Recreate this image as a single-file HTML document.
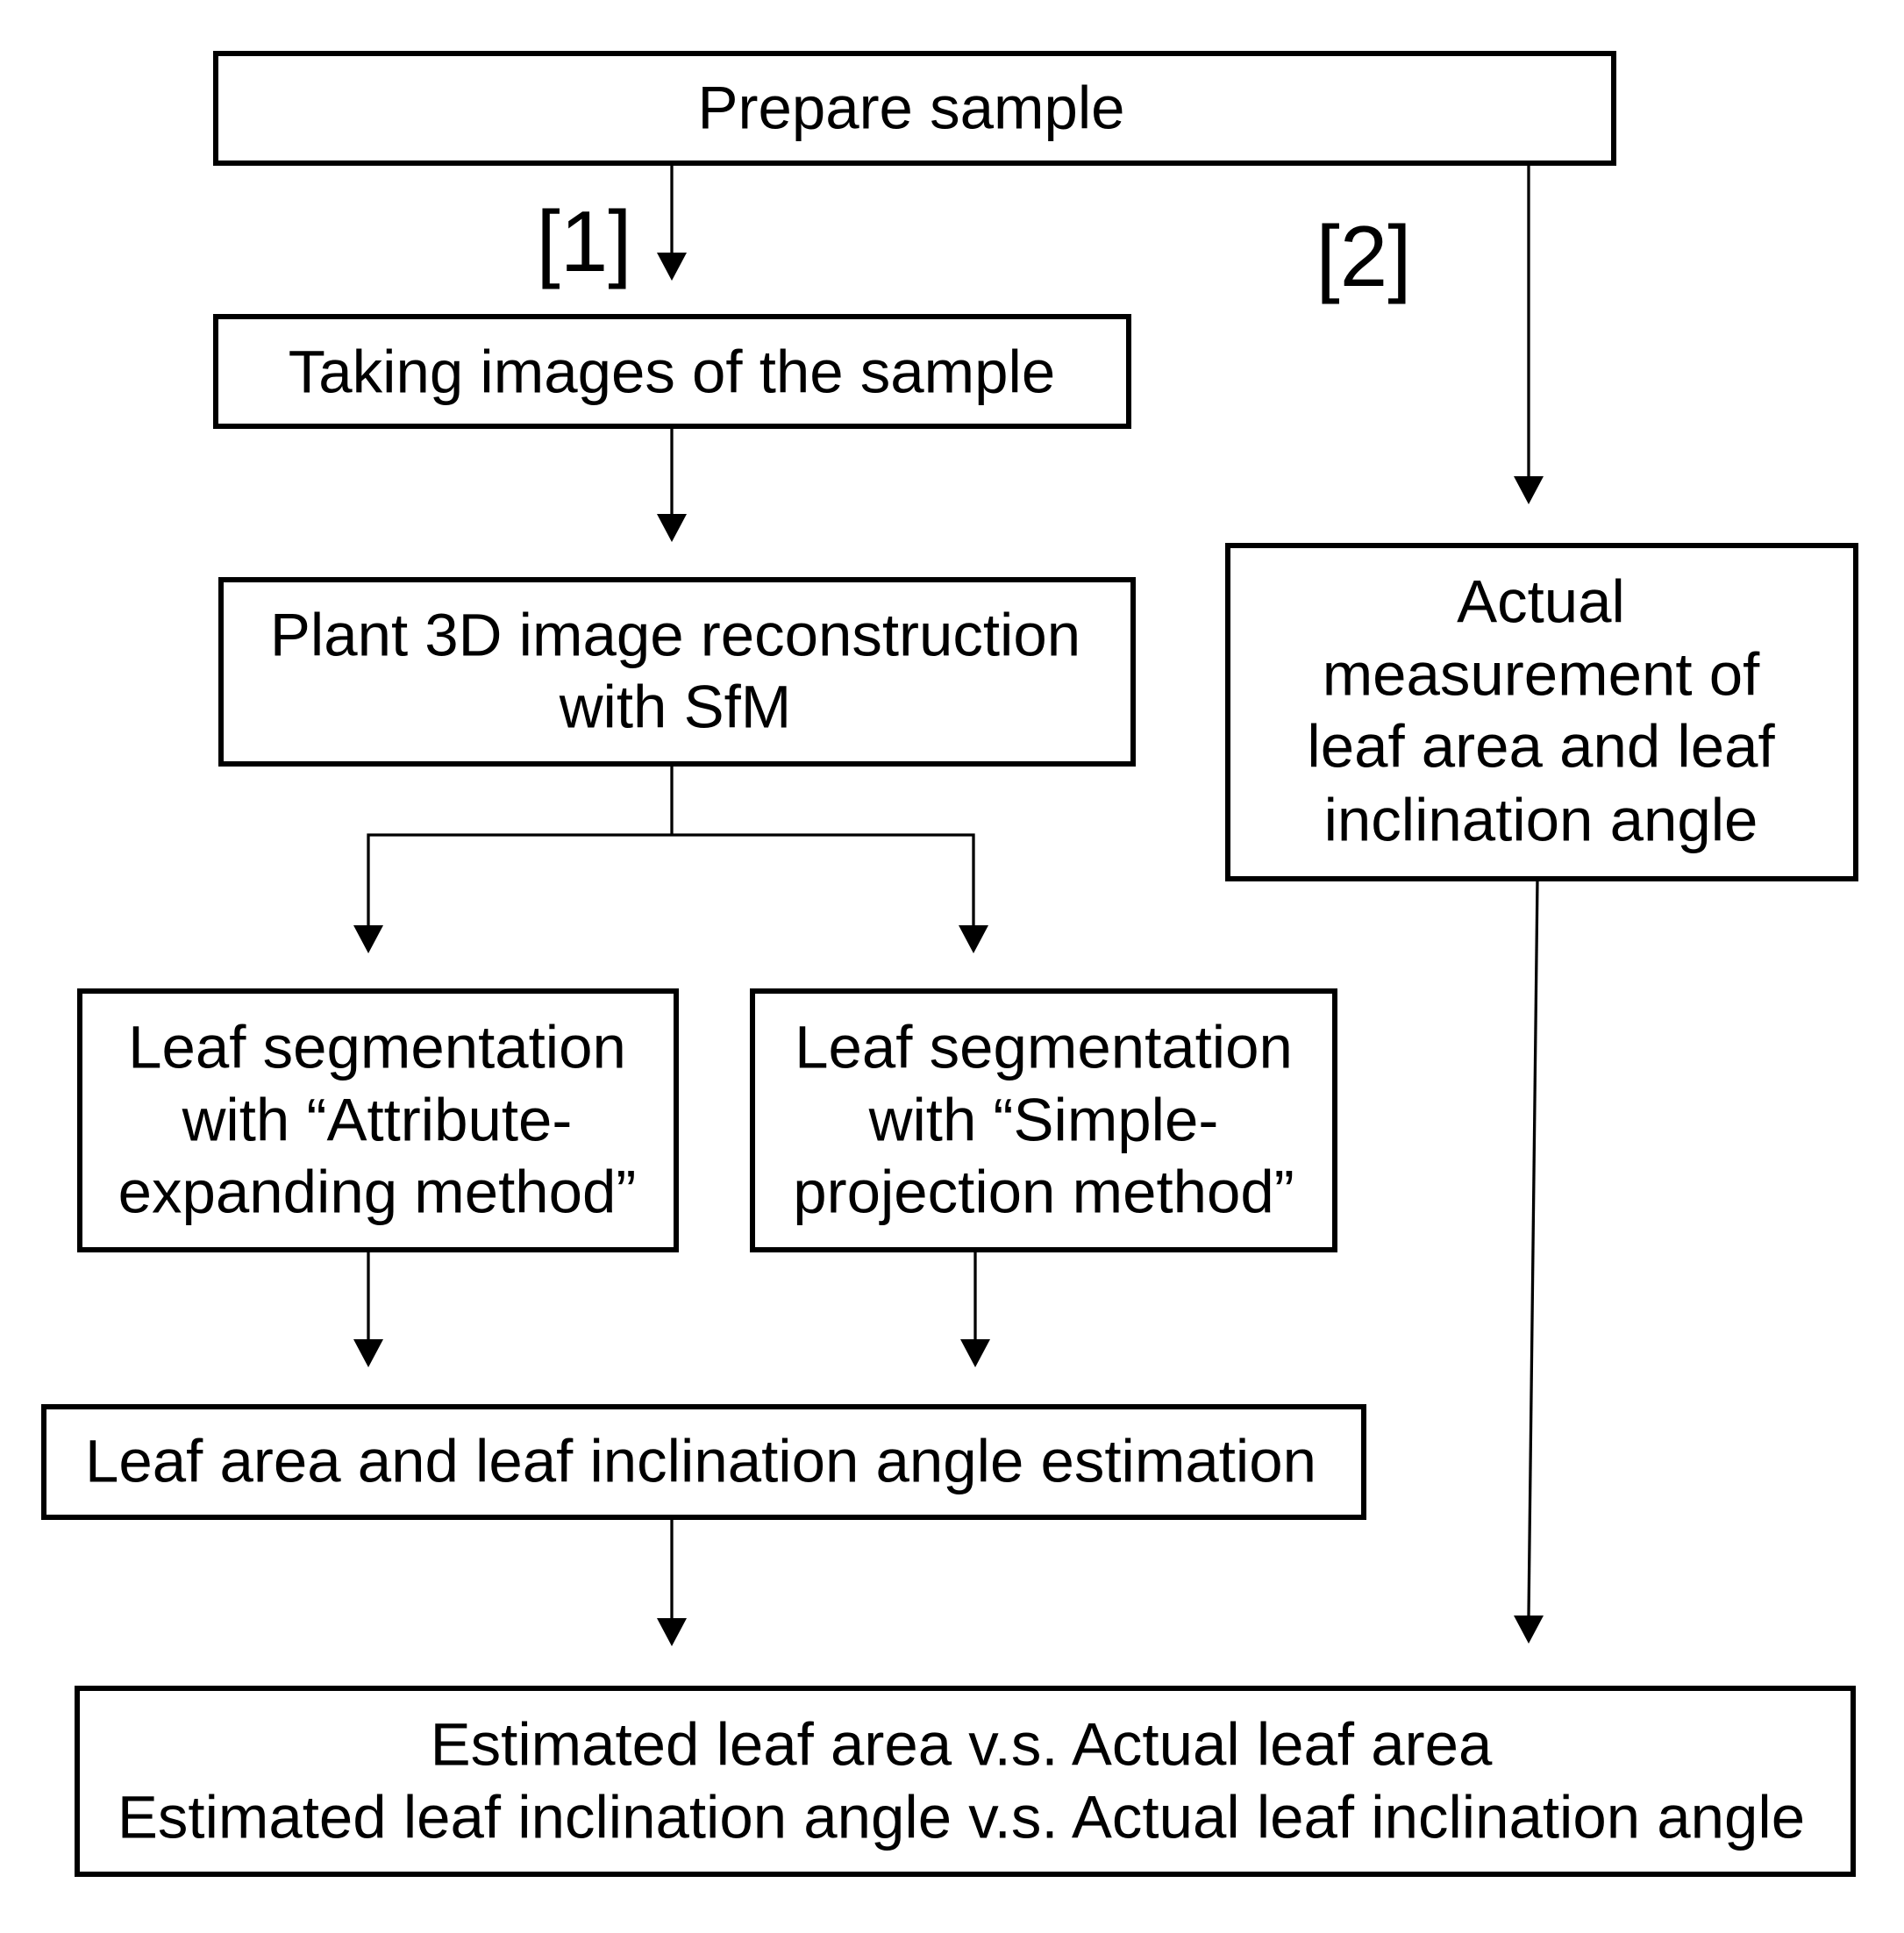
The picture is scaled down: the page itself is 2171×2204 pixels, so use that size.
<!DOCTYPE html>
<html><head><meta charset="utf-8"><style>
html,body{margin:0;padding:0;background:#fff;}
svg{display:block;}
text{font-family:"Liberation Sans",Arial,sans-serif;font-size:69px;fill:#000;text-anchor:middle;dominant-baseline:central;}
</style></head><body>
<svg width="2171" height="2204" viewBox="0 0 2171 2204" xmlns="http://www.w3.org/2000/svg">
<g fill="none" stroke="#000" stroke-width="6">
<rect x="246" y="61" width="1594" height="125"/>
<rect x="246" y="361" width="1041" height="125"/>
<rect x="252" y="661" width="1040" height="210"/>
<rect x="1400" y="622" width="716" height="380"/>
<rect x="91" y="1130" width="680" height="295"/>
<rect x="858" y="1130" width="664" height="295"/>
<rect x="50" y="1604" width="1505" height="126"/>
<rect x="88" y="1925" width="2025" height="212"/>
</g>
<g stroke="#000" stroke-width="3.3" fill="none">
<line x1="766" y1="186" x2="766" y2="288"/>
<line x1="1743" y1="186" x2="1743" y2="543"/>
<line x1="766" y1="486" x2="766" y2="586"/>
<polyline points="766,871 766,952"/>
<polyline points="420,1055 420,952 1110,952 1110,1055"/>
<line x1="1753" y1="1002" x2="1743" y2="1842"/>
<line x1="420" y1="1425" x2="420" y2="1527"/>
<line x1="1112" y1="1425" x2="1112" y2="1527"/>
<line x1="766" y1="1730" x2="766" y2="1845"/>
</g>
<g fill="#000">
<path d="M749,288 L783,288 L766,320 Z"/>
<path d="M1726,543 L1760,543 L1743,575 Z"/>
<path d="M749,586 L783,586 L766,618 Z"/>
<path d="M403,1055 L437,1055 L420,1087 Z"/>
<path d="M1093,1055 L1127,1055 L1110,1087 Z"/>
<path d="M1726,1842 L1760,1842 L1743,1874 Z"/>
<path d="M403,1527 L437,1527 L420,1559 Z"/>
<path d="M1095,1527 L1129,1527 L1112,1559 Z"/>
<path d="M749,1845 L783,1845 L766,1877 Z"/>
</g>
<text x="1039" y="123">Prepare sample</text>
<text x="666" y="275" style="font-size:98px">[1]</text>
<text x="1555" y="292" style="font-size:98px">[2]</text>
<text x="766" y="424">Taking images of the sample</text>
<text x="770" y="724">Plant 3D image reconstruction</text>
<text x="770" y="806">with SfM</text>
<text x="1757" y="686">Actual</text>
<text x="1757" y="769">measurement of</text>
<text x="1757" y="851">leaf area and leaf</text>
<text x="1757" y="935">inclination angle</text>
<text x="430" y="1194">Leaf segmentation</text>
<text x="430" y="1277">with “Attribute-</text>
<text x="430" y="1359">expanding method”</text>
<text x="1190" y="1194">Leaf segmentation</text>
<text x="1190" y="1277">with “Simple-</text>
<text x="1190" y="1359">projection method”</text>
<text x="799" y="1666">Leaf area and leaf inclination angle estimation</text>
<text x="1096" y="1989">Estimated leaf area v.s. Actual leaf area</text>
<text x="1096" y="2072">Estimated leaf inclination angle v.s. Actual leaf inclination angle</text>
</svg>
</body></html>
